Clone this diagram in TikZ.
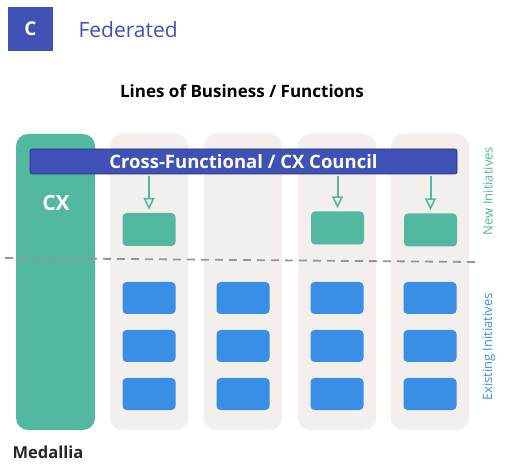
\documentclass[tikz,border=0pt]{standalone}
\usepackage{fontspec}
\setmainfont{Open Sans}
\definecolor{indigo}{RGB}{63,81,181}
\definecolor{teal}{RGB}{82,184,160}
\definecolor{lane}{RGB}{242,239,236}
\definecolor{sky}{RGB}{58,142,230}
\definecolor{divgray}{RGB}{150,150,150}
\definecolor{ink}{RGB}{38,38,42}
\usetikzlibrary{arrows.meta,positioning,calc}

\begin{document}
\begin{tikzpicture}[x=1pt,y=-1pt,
    lanebox/.style={fill=lane,rounded corners=12pt},
    newbox/.style={fill=teal,rounded corners=4pt,minimum width=53pt,minimum height=33pt,inner sep=0pt},
    oldbox/.style={fill=sky,rounded corners=4pt,minimum width=53pt,minimum height=32pt,inner sep=0pt},
    push/.style={teal,line width=2pt,-{Triangle[open,length=12pt,width=11pt,line width=1.6pt]}}]
        \useasboundingbox (0,0) rectangle (512,473);
        % header
        \node[fill=indigo,minimum width=45pt,minimum height=44pt,inner sep=0pt,text=white,font=\bfseries\fontsize{19}{22}\selectfont] (tag) at (30.5,29) {C};
        \node[anchor=west,text=indigo,font=\fontsize{21}{24}\selectfont] (title) at (75,30) {Federated};
        \node[text=black,font=\bfseries\fontsize{17}{20}\selectfont] (lob) at (242,91) {Lines of Business / Functions};
        % columns
        \fill[teal,rounded corners=12pt] (16,134) rectangle (95,430);
        \foreach \xl in {110,204,298,391}
          \fill[lanebox] (\xl,134) rectangle ++(78,296);
        \node[text=white,font=\bfseries\fontsize{21}{24}\selectfont] (cx) at (56,203) {CX};
        \node[fill=indigo,draw=indigo!60!black,line width=0.6pt,rounded corners=2pt,minimum width=427pt,minimum height=25pt,inner sep=0pt,
          text=white,font=\bfseries\fontsize{18.5}{21}\selectfont] (council) at (243.5,161.5) {Cross-Functional / CX Council};
        % new initiatives
        \node[newbox] (n2) at (149,229.5) {};
        \node[newbox] (n4) at (337.5,228) {};
        \node[newbox] (n5) at (430.5,230) {};
        \foreach \n in {n2,n4,n5}
          \draw[push] (council.south -| \n.north) ++(0,2) -- ($(\n.north)+(0,-3)$);
        % divider
        \draw[divgray,line width=1.8pt,dash pattern=on 8pt off 6pt] (5,258) -- (476,262);
        % existing initiatives
        \foreach \c/\xc in {2/149,3/243,4/337,5/430}
          \foreach \r/\yc in {1/298,2/346,3/394}
            \node[oldbox] (e\c\r) at (\xc,\yc) {};
        % side labels
        \node[rotate=90,text=teal,font=\fontsize{13}{15}\selectfont] (newlbl) at (488,191) {New Initiatives};
        \node[rotate=90,text=sky,font=\fontsize{13}{15}\selectfont] (oldlbl) at (489,347) {Existing Initiatives};
        \node[anchor=west,text=ink,font=\bfseries\fontsize{16.5}{20}\selectfont] (brand) at (9,452) {Medallia};
      \end{tikzpicture}
\end{document}
